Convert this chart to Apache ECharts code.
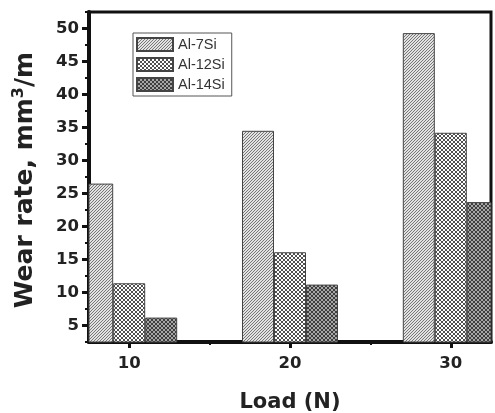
<!DOCTYPE html>
<html>
<head>
<meta charset="utf-8">
<script src="https://cdn.jsdelivr.net/npm/echarts@6/dist/echarts.min.js"></script>
<style>
  html, body { margin: 0; padding: 0; background: #fff; }
  #chart { width: 495px; height: 413px; }
</style>
</head>
<body>
<div id="chart"></div>
<script>
// Wear rate of Al-Si alloys under increasing load
const loads = [10, 20, 30];
const seriesNames = ['Al-7Si', 'Al-12Si', 'Al-14Si'];
const al7Si = [26.5, 34.5, 49.3];
const al12Si = [11.4, 16.1, 34.2];
const al14Si = [6.2, 11.2, 23.7];
const yTickValues = [5, 10, 15, 20, 25, 30, 35, 40, 45, 50];
// load axis slots every 5 N; labels and major ticks only on the measured loads
const loadSlots = ['10', '15', '20', '25', '30'];
const loadLabels = loads.map(String);

// Small tiles used as hatch fills for the bars
function makeTile(size, bg, pixels, fg) {
  const c = document.createElement('canvas');
  c.width = size; c.height = size;
  const g = c.getContext('2d');
  g.fillStyle = bg; g.fillRect(0, 0, size, size);
  g.fillStyle = fg;
  pixels.forEach(p => g.fillRect(p[0], p[1], 1, 1));
  return c;
}
const xCross = [[0, 0], [1, 1], [2, 2], [3, 3], [3, 0], [2, 1], [1, 2], [0, 3]];
// diagonal hatch "/"
const diagTile = makeTile(3, '#e2e2e2', [[0, 2], [1, 1], [2, 0]], '#777777');
// open diagonal cross-hatch with white holes
const crossTile = makeTile(4, '#ffffff', xCross, '#505050');
// dense dark cross-hatch
const denseTile = makeTile(4, '#a6a6a6', xCross, '#3e3e3e');

const fills = [diagTile, crossTile, denseTile];
const values = [al7Si, al12Si, al14Si];

const font = 'DejaVu Sans, sans-serif';
const isLoad = (idx, val) => loadLabels.indexOf(val) >= 0;
const isMinorSlot = (idx, val) => loadLabels.indexOf(val) < 0;

const chart = echarts.init(document.getElementById('chart'), null, { renderer: 'canvas' });

chart.setOption({
  animation: false,
  backgroundColor: '#fff',
  grid: {
    left: 89, right: 4, top: 12, bottom: 71,
    containLabel: false, outerBoundsMode: 'none',
    show: true, borderColor: '#111', borderWidth: 3, backgroundColor: 'transparent'
  },
  legend: {
    orient: 'vertical',
    left: 133, top: 33,
    padding: [4, 7, 4, 3],
    icon: 'rect',
    itemWidth: 36, itemHeight: 13, itemGap: 5,
    borderColor: '#555', borderWidth: 1,
    textStyle: { fontFamily: 'Liberation Sans, Arial, sans-serif', fontSize: 14.5, color: '#333' },
    data: seriesNames
  },
  xAxis: [
    {
      type: 'category', data: loadSlots, boundaryGap: true,
      name: 'Load (N)', nameLocation: 'middle', nameGap: 50,
      nameTextStyle: { fontFamily: font, fontWeight: 'bold', fontSize: 21, color: '#222' },
      axisLine: { show: true, onZero: false, lineStyle: { color: '#111', width: 4 } },
      axisTick: { show: true, alignWithLabel: true, interval: isLoad, length: 6, lineStyle: { color: '#111', width: 3 } },
      axisLabel: { interval: isLoad, margin: 13, fontFamily: font, fontWeight: 'bold', fontSize: 16.5, color: '#222' },
      splitLine: { show: false }
    },
    {
      type: 'category', data: loadSlots, boundaryGap: true, position: 'bottom',
      axisLine: { show: false },
      axisTick: { show: true, alignWithLabel: true, interval: isMinorSlot, length: 3, lineStyle: { color: '#111', width: 2 } },
      axisLabel: { show: false },
      splitLine: { show: false }
    }
  ],
  yAxis: [
    {
      type: 'value', min: 2.5, max: 52.5, interval: 2.5,
      name: 'Wear rate, mm{sup|3}/m', nameLocation: 'middle', nameGap: 50, nameRotate: 90,
      nameTextStyle: {
        fontFamily: font, fontWeight: 'bold', fontSize: 25, color: '#222',
        padding: [0, 6, 0, 0],
        rich: {
          sup: { fontFamily: font, fontWeight: 'bold', fontSize: 16, color: '#222', verticalAlign: 'top', padding: [0, 0, 12, 0] }
        }
      },
      axisLine: { show: true, onZero: false, lineStyle: { color: '#111', width: 4 } },
      axisTick: { show: true, length: 4, lineStyle: { color: '#111', width: 2 } },
      axisLabel: { customValues: yTickValues, margin: 10, fontFamily: font, fontWeight: 'bold', fontSize: 16.5, color: '#222' },
      splitLine: { show: false }
    },
    {
      type: 'value', min: 2.5, max: 52.5, interval: 2.5, position: 'left',
      axisLine: { show: false },
      axisTick: { show: true, customValues: yTickValues, length: 7, lineStyle: { color: '#111', width: 3 } },
      axisLabel: { show: false },
      splitLine: { show: false }
    }
  ],
  series: seriesNames.map((name, i) => ({
    name: name,
    type: 'bar',
    xAxisIndex: 0, yAxisIndex: 0,
    barWidth: 32,
    barGap: '0%',
    clip: true,
    itemStyle: {
      color: { image: fills[i], repeat: 'repeat' },
      borderColor: '#444', borderWidth: 1
    },
    data: loads.map((x, j) => [String(x), values[i][j]])
  }))
});
</script>
</body>
</html>
